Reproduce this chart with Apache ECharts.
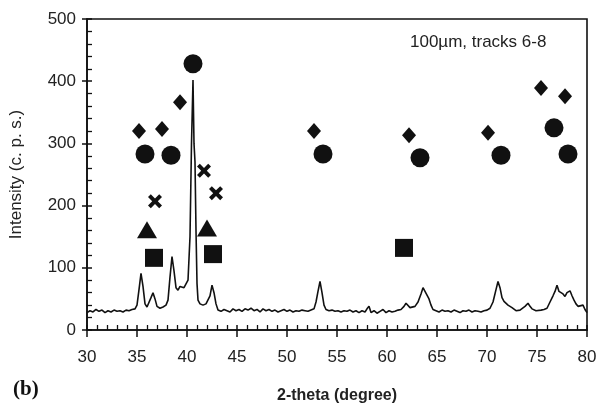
<!DOCTYPE html>
<html>
<head>
<meta charset="utf-8">
<script src="https://cdn.jsdelivr.net/npm/echarts@6/dist/echarts.min.js"></script>
<style>
  html, body { margin: 0; padding: 0; background: #fff; }
  #chart { width: 603px; height: 406px; }
</style>
</head>
<body>
<div id="chart"></div>
<script>
// XRD trace (2-theta in degree, intensity in c.p.s.)
const traceDeg = [
  30.0, 30.3, 30.6, 30.9, 31.2, 31.5, 31.8, 32.1, 32.4, 32.7, 33.0, 33.3, 33.6, 33.9, 34.2, 34.5, 34.8,
  35.0, 35.2, 35.4, 35.6, 35.8, 36.0, 36.2, 36.4, 36.6, 36.8, 37.0, 37.3, 37.6, 37.9, 38.1, 38.3, 38.5,
  38.7, 38.9, 39.1, 39.3, 39.5, 39.7, 39.9, 40.1, 40.3, 40.45, 40.6, 40.7, 40.8, 40.9, 41.0, 41.1, 41.3,
  41.6, 41.9, 42.1, 42.3, 42.5, 42.7, 42.9, 43.1, 43.4, 43.7, 44.0, 44.3, 44.6, 44.9, 45.2, 45.5, 45.8,
  46.1, 46.4, 46.7, 47.0, 47.3, 47.6, 47.9, 48.2, 48.5, 48.8, 49.1, 49.4, 49.7, 50.0, 50.3, 50.6, 50.9,
  51.2, 51.5, 51.8, 52.1, 52.4, 52.7, 52.9, 53.1, 53.3, 53.5, 53.7, 53.9, 54.2, 54.5, 54.8, 55.1, 55.4,
  55.7, 56.0, 56.3, 56.6, 56.9, 57.2, 57.5, 57.8, 58.0, 58.2, 58.4, 58.7, 59.0, 59.3, 59.6, 59.9, 60.2,
  60.5, 60.8, 61.1, 61.4, 61.7, 61.9, 62.1, 62.3, 62.5, 62.8, 63.1, 63.4, 63.6, 63.8, 64.0, 64.2, 64.4,
  64.6, 64.9, 65.2, 65.5, 65.8, 66.1, 66.4, 66.7, 67.0, 67.3, 67.6, 67.9, 68.2, 68.5, 68.8, 69.1, 69.4,
  69.7, 70.0, 70.3, 70.6, 70.9, 71.1, 71.3, 71.5, 71.7, 71.9, 72.1, 72.3, 72.5, 72.7, 72.9, 73.1, 73.3,
  73.5, 73.8, 74.1, 74.3, 74.5, 74.7, 74.9, 75.1, 75.4, 75.7, 76.0, 76.3, 76.6, 76.8, 77.0, 77.2, 77.4,
  77.6, 77.8, 78.0, 78.3, 78.5, 78.7, 78.9, 79.1, 79.3, 79.6, 79.8, 80.0
]
const traceCps = [
  28, 31, 29, 33, 30, 32, 28, 31, 29, 32, 30, 31, 29, 32, 31, 33, 34,
  40, 65, 91, 70, 42, 37, 40, 52, 60, 50, 38, 35, 37, 40, 48, 85, 118,
  95, 68, 64, 70, 72, 68, 70, 80, 150, 300, 402, 300, 270, 160, 75, 48, 42,
  40, 42, 45, 55, 72, 60, 42, 32, 30, 33, 31, 29, 34, 31, 33, 30, 34,
  32, 35, 31, 33, 29, 34, 31, 33, 30, 32, 29, 31, 33, 30, 32, 29, 31,
  30, 32, 31, 30, 32, 34, 45, 62, 78, 60, 40, 33, 31, 32, 30, 31, 29,
  31, 30, 32, 29, 31, 28, 31, 29, 34, 38, 28, 31, 27, 30, 33, 28, 31,
  29, 30, 32, 33, 38, 43, 40, 36, 33, 38, 45, 58, 68, 62, 64, 50, 40,
  33, 31, 29, 32, 30, 31, 29, 32, 30, 28, 31, 30, 32, 29, 31, 30, 29,
  31, 32, 35, 45, 65, 78, 68, 52, 46, 44, 40, 41, 36, 33, 31, 34, 32,
  35, 38, 43, 38, 34, 35, 31, 33, 32, 33, 35, 45, 55, 62, 72, 62, 63,
  58, 54, 60, 63, 55, 48, 42, 38, 36, 40, 33, 28
]

// phase markers [2-theta, height]
const diamondPts = [[35.2, 320], [37.5, 323], [39.3, 366], [52.7, 320], [62.2, 313], [70.1, 317], [75.4, 389], [77.8, 376]]
const circlePts = [[40.6, 428], [35.8, 283], [38.4, 281], [53.6, 283], [63.3, 277], [71.4, 281], [76.7, 325], [78.1, 283]]
const crossPts = [[36.8, 207], [41.7, 256], [42.9, 220]]
const trianglePts = [[36.0, 161], [42.0, 164]]
const squarePts = [[36.7, 116], [42.6, 122], [61.7, 132]]

const xMin = 30
const xMax = 80
const xStep = 5
const yMin = 0
const yMax = 500
const yStep = 100

const crossPath = 'path://M2,0 L5,3 L8,0 L10,2 L7,5 L10,8 L8,10 L5,7 L2,10 L0,8 L3,5 L0,2 Z'
const labelFont = { color: '#222', fontSize: 17, fontFamily: 'Liberation Sans' }
const axisStroke = { color: '#111', width: 1.6 }
const clearLine = { show: true, onZero: false, lineStyle: { color: 'rgba(0,0,0,0)' } }
const tickLine = { color: '#111', width: 1.5 }
const minorLine = { color: '#111', width: 1.3 }
const noBounds = { outerBoundsMode: 'none', containLabel: false }
const innerTick = 5

const chart = echarts.init(document.getElementById('chart'))

const marker = (data, symbol, size) => ({
  type: 'scatter',
  data,
  symbol,
  symbolSize: size,
  itemStyle: { color: '#111', opacity: 1 },
  silent: true,
  z: 3
})

// an axis that only carries its ticks (inner tick rows of the frame)
const tickAxis = (gridIndex, min, max, step) => ({
  type: 'value',
  gridIndex,
  min,
  max,
  interval: step,
  axisLine: clearLine,
  axisTick: { show: true, inside: false, length: innerTick, lineStyle: tickLine },
  minorTick: { show: true, splitNumber: 5, length: innerTick, lineStyle: minorLine },
  axisLabel: { show: false },
  splitLine: { show: false }
})
const hiddenAxis = (gridIndex, min, max) => ({ type: 'value', gridIndex, min, max, show: false })

chart.setOption({
  animation: false,
  backgroundColor: '#fff',
  grid: [
    Object.assign({ left: 87, right: 16, top: 19, bottom: 76, show: true, borderColor: '#111', borderWidth: 1.6 }, noBounds),
    // raised a little: its bottom ticks point down onto the x axis
    Object.assign({ left: 87, right: 16, top: 19, bottom: 76 + innerTick }, noBounds),
    // moved right a little: its left ticks point back onto the y axis
    Object.assign({ left: 87 + innerTick, right: 16, top: 19, bottom: 76 }, noBounds)
  ],
  xAxis: [{
    type: 'value',
    gridIndex: 0,
    min: xMin,
    max: xMax,
    interval: xStep,
    name: '2-theta (degree)',
    nameLocation: 'middle',
    nameGap: 58,
    nameTextStyle: { color: '#222', fontSize: 16, fontWeight: 'bold', fontFamily: 'Liberation Sans' },
    axisLine: { lineStyle: axisStroke },
    axisTick: { show: true, inside: false, length: 7, lineStyle: tickLine },
    axisLabel: Object.assign({ margin: 19 }, labelFont),
    splitLine: { show: false }
  },
  tickAxis(1, xMin, xMax, xStep),
  hiddenAxis(2, xMin, xMax)],
  yAxis: [{
    type: 'value',
    gridIndex: 0,
    min: yMin,
    max: yMax,
    interval: yStep,
    name: 'Intensity (c. p. s.)',
    nameLocation: 'middle',
    nameGap: 62,
    nameTextStyle: { color: '#222', fontSize: 17, fontFamily: 'Liberation Sans' },
    axisLine: { show: true, lineStyle: axisStroke },
    axisTick: { show: true, inside: false, length: 5, lineStyle: tickLine },
    axisLabel: Object.assign({ margin: 11 }, labelFont),
    splitLine: { show: false }
  },
  hiddenAxis(1, yMin, yMax),
  tickAxis(2, yMin, yMax, yStep)],
  series: [
    {
      type: 'line',
      data: traceDeg.map((d, i) => [d, traceCps[i]]),
      showSymbol: false,
      smooth: false,
      lineStyle: { color: '#111', width: 1.6 },
      silent: true,
      z: 2
    },
    marker(diamondPts, 'diamond', [14, 16]),
    marker(circlePts, 'circle', 19),
    marker(crossPts, crossPath, 14),
    marker(trianglePts, 'triangle', [20, 17]),
    marker(squarePts, 'rect', 18),
    // empty series so the tick-only grids are laid out
    { type: 'line', xAxisIndex: 1, yAxisIndex: 1, data: [], silent: true },
    { type: 'line', xAxisIndex: 2, yAxisIndex: 2, data: [], silent: true }
  ],
  graphic: [
    {
      type: 'text',
      left: 410,
      top: 34,
      style: { text: '100\u00b5m, tracks 6-8', fill: '#222', font: '17px "Liberation Sans"' }
    },
    {
      type: 'text',
      left: 13,
      top: 379,
      style: { text: '(b)', fill: '#111', font: 'bold 21px "Liberation Serif"' }
    }
  ]
})
</script>
</body>
</html>
